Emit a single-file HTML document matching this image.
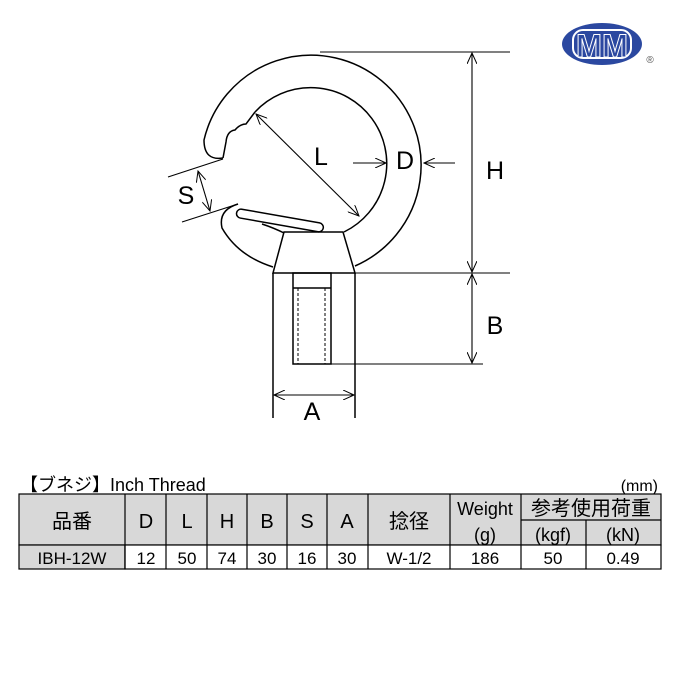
<!DOCTYPE html>
<html><head><meta charset="utf-8"><style>
body{margin:0;background:#fff;width:680px;height:680px;overflow:hidden;font-family:"Liberation Sans","Noto Sans CJK JP",sans-serif}
svg{position:absolute;left:0;top:0}
</style></head><body>
<svg width="680" height="680" viewBox="0 0 680 680" xmlns="http://www.w3.org/2000/svg">
<defs><marker id="ar" markerWidth="12" markerHeight="10" refX="11" refY="5" orient="auto-start-reverse" markerUnits="userSpaceOnUse"><path d="M0,0 L11,5 L0,10" fill="none" stroke="#000" stroke-width="1"/></marker></defs>
<g fill="none" stroke="#000" stroke-width="1.5">
<path d="M223,158 Q204,161 204,140 A110 110 0 1 1 355,266"/>
<path d="M255,112 A76 76 0 1 1 344,232"/>
<path d="M223,158 L226,142 Q227,131 235,130 Q240,124 246,124 L255,112"/>
<path d="M238,204 Q218,210 222,228 Q238,256 273,267"/>
<path d="M262,224 Q274,228 284,233"/>
<rect x="236" y="216" width="88" height="9" rx="4.5" transform="rotate(10 280 220)" fill="#fff"/>
<path d="M284,232 L343,232 L355,273 L273,273 Z"/>
<path d="M273,273 L273,418 M355,273 L355,418"/>
<rect x="293" y="273" width="38" height="91"/>
<line x1="293" y1="288" x2="331" y2="288"/>
<path d="M298,288 V364 M325,288 V364" stroke-dasharray="3,2" stroke-width="1"/>
</g>
<g fill="none" stroke="#000" stroke-width="1.1">
<line x1="320" y1="52" x2="510" y2="52"/>
<line x1="355" y1="273" x2="510" y2="273"/>
<line x1="331" y1="364" x2="483" y2="364"/>
<line x1="472" y1="53" x2="472" y2="272" marker-start="url(#ar)" marker-end="url(#ar)"/>
<line x1="472" y1="274" x2="472" y2="363" marker-start="url(#ar)" marker-end="url(#ar)"/>
<line x1="274" y1="395" x2="354" y2="395" marker-start="url(#ar)" marker-end="url(#ar)"/>
<line x1="256" y1="114" x2="359" y2="216" marker-start="url(#ar)" marker-end="url(#ar)"/>
<line x1="353" y1="163" x2="386" y2="163" marker-end="url(#ar)"/>
<line x1="455" y1="163" x2="424" y2="163" marker-end="url(#ar)"/>
<line x1="168" y1="177" x2="223" y2="159"/>
<line x1="182" y1="222" x2="238" y2="204"/>
<line x1="198" y1="171" x2="210" y2="211" marker-start="url(#ar)" marker-end="url(#ar)"/>
</g>
<g font-family="Liberation Sans, sans-serif" font-size="25" fill="#000" text-anchor="middle">
<text x="321" y="165">L</text>
<text x="405" y="169">D</text>
<text x="495" y="179">H</text>
<text x="495" y="334">B</text>
<text x="312" y="420">A</text>
<text x="186" y="204">S</text>
</g>
<ellipse cx="602" cy="44" rx="40" ry="21" fill="#2b48a0"/>
<rect x="573" y="30" width="58" height="28" rx="10" fill="none" stroke="#fff" stroke-width="2"/>
<text x="602" y="57" font-family="Liberation Sans, sans-serif" font-weight="bold" font-size="32" fill="#2b48a0" stroke="#fff" stroke-width="1" text-anchor="middle" textLength="52" lengthAdjust="spacingAndGlyphs">MM</text>
<text x="650" y="63" font-family="Liberation Sans, sans-serif" font-size="10" fill="#555" text-anchor="middle">®</text>
<g font-family="Liberation Sans, Noto Sans CJK JP, sans-serif" fill="#000">
<text x="20" y="491" font-size="18">【ブネジ】Inch Thread</text>
<text x="658" y="491" font-size="16" text-anchor="end">(mm)</text>
</g>
<g stroke="#000" stroke-width="1.2">
<rect x="19" y="494" width="642" height="51" fill="#d8d8d8"/>
<rect x="19" y="545" width="106" height="24" fill="#d8d8d8"/>
<rect x="125" y="545" width="536" height="24" fill="#fff"/>
<path d="M125,494V569 M166,494V569 M207,494V569 M247,494V569 M287,494V569 M327,494V569 M368,494V569 M450,494V569 M521,494V569 M586,520V569 M521,520H661" fill="none"/>
</g>
<g font-family="Liberation Sans, Noto Sans CJK JP, sans-serif" font-size="20" fill="#000" text-anchor="middle">
<text x="72" y="528">品番</text>
<text x="146" y="528">D</text>
<text x="187" y="528">L</text>
<text x="227" y="528">H</text>
<text x="267" y="528">B</text>
<text x="307" y="528">S</text>
<text x="347" y="528">A</text>
<text x="409" y="528">捻径</text>
<text x="485" y="515" font-size="18">Weight</text>
<text x="485" y="541" font-size="18">(g)</text>
<text x="591" y="515">参考使用荷重</text>
<text x="553" y="541" font-size="18">(kgf)</text>
<text x="623" y="541" font-size="18">(kN)</text>
<g font-size="17">
<text x="72" y="564">IBH-12W</text>
<text x="146" y="564">12</text>
<text x="187" y="564">50</text>
<text x="227" y="564">74</text>
<text x="267" y="564">30</text>
<text x="307" y="564">16</text>
<text x="347" y="564">30</text>
<text x="409" y="564">W-1/2</text>
<text x="485" y="564">186</text>
<text x="553" y="564">50</text>
<text x="623" y="564">0.49</text>
</g>
</g>
</svg>
</body></html>
